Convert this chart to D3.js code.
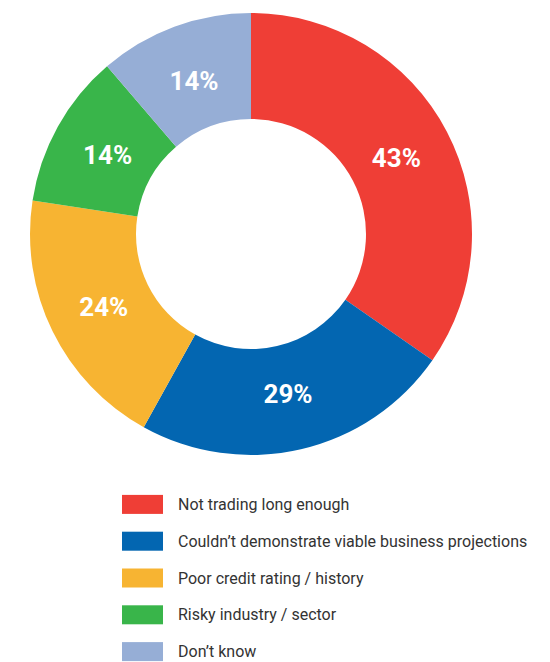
<!DOCTYPE html>
<html>
<head>
<meta charset="utf-8">
<script src="https://cdn.jsdelivr.net/npm/d3@7"></script>
<style>
  body { margin: 0; background: #fff; }
  .slice-label { font-family: Roboto, sans-serif; font-weight: 700; fill: #fff; }
  .legend-label { font-family: Roboto, sans-serif; fill: #333; }
</style>
</head>
<body>
<svg width="550" height="662"></svg>
<script>
const categories = ["Not trading long enough", "Couldn\u2019t demonstrate viable business projections",
    "Poor credit rating / history", "Risky industry / sector", "Don\u2019t know"];
const values = [43, 29, 24, 14, 14];
const colors = ["#ef3e36", "#0366b1", "#f7b432", "#39b54a", "#96aed6"];

const svg = d3.select("svg");
const cx = 251, cy = 234, outerR = 221, innerR = 115;

const pie = d3.pie().sort(null).value(function(d) { return d; });
const arc = d3.arc().innerRadius(innerR).outerRadius(outerR);
const labelArc = d3.arc().innerRadius(163).outerRadius(165);
const arcs = pie(values);

const g = svg.append("g").attr("transform", "translate(" + cx + "," + cy + ")");

g.selectAll("path")
    .data(arcs)
    .enter().append("path")
    .attr("d", arc)
    .attr("fill", function(d, i) { return colors[i]; });

g.selectAll("text")
    .data(arcs)
    .enter().append("text")
    .attr("class", "slice-label")
    .attr("transform", function(d) { return "translate(" + labelArc.centroid(d) + ")"; })
    .attr("text-anchor", "middle")
    .attr("dy", "0.36em")
    .style("font-size", "26px")
    .text(function(d) { return d.data + "%"; });

// legend
const y = d3.scaleBand().domain(categories).range([486, 670]);

const legend = svg.append("g")
    .selectAll("g")
    .data(categories)
    .enter().append("g")
    .attr("transform", function(d) { return "translate(0," + (y(d) + y.bandwidth() / 2) + ")"; });

legend.append("rect")
    .attr("x", 122)
    .attr("y", -9.5)
    .attr("width", 41)
    .attr("height", 19)
    .attr("fill", function(d, i) { return colors[i]; });

legend.append("text")
    .attr("class", "legend-label")
    .attr("x", 178)
    .attr("dy", "0.35em")
    .style("font-size", "16px")
    .text(function(d) { return d; });
</script>
</body>
</html>
